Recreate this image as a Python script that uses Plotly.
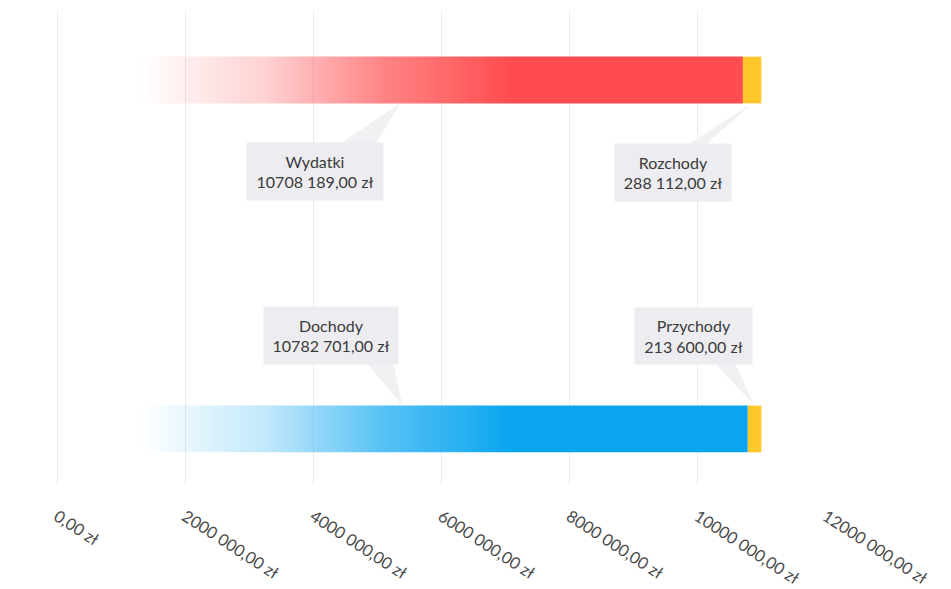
import plotly.graph_objects as go

# Budget rows (numeric y positions keep the wide gap between the two rows)
rows = ["Dochody / Przychody", "Wydatki / Rozchody"]
row_pos = [0, 1]

main_names = ["Dochody", "Wydatki"]
main_values = [10782701.00, 10708189.00]
extra_names = ["Przychody", "Rozchody"]
extra_values = [213600.00, 288112.00]

tick_values = [0, 2000000, 4000000, 6000000, 8000000, 10000000, 12000000]

RED = "255,77,79"
BLUE = "10,165,240"
YELLOW = "#ffc72c"
BOX = "#ededf1"
WEDGE = "#f1f1f4"
HALF = 0.067  # half bar thickness in y units
FONT = "Lato, Carlito, sans-serif"


def fmt(v):
    v = int(round(v))
    th, rem = divmod(v, 1000)
    if th:
        return f"{th} {rem:03d},00 zł"
    return f"{rem},00 zł"


def fade(rgb):
    return [
        [0.0, f"rgba({rgb},0)"],
        [0.12, f"rgba({rgb},0)"],
        [0.30, f"rgba({rgb},0.25)"],
        [0.48, f"rgba({rgb},0.7)"],
        [0.66, f"rgba({rgb},1)"],
        [1.0, f"rgba({rgb},1)"],
    ]


fig = go.Figure()

colors = [BLUE, RED]
for pos, name, val, rgb in zip(row_pos, main_names, main_values, colors):
    fig.add_trace(go.Scatter(
        x=[0, val, val, 0, 0],
        y=[pos - HALF, pos - HALF, pos + HALF, pos + HALF, pos - HALF],
        fill="toself",
        mode="none",
        fillgradient=dict(type="horizontal", colorscale=fade(rgb),
                          start=0, stop=val),
        name=name,
        showlegend=False,
        hoverinfo="skip",
    ))

fig.add_trace(go.Bar(
    y=row_pos,
    x=extra_values,
    base=main_values,
    orientation="h",
    width=2 * HALF,
    marker=dict(color=YELLOW, line=dict(width=0)),
    showlegend=False,
    hoverinfo="skip",
))

# Callouts: (row index, segment start, segment value, label, box offset, box size, wedge base)
callouts = [
    (1, 0, main_values[1], main_names[1], (-85, -68), (134, 55), (-67, -27, -45)),
    (1, main_values[1], extra_values[1], extra_names[1], (-79, -69), (114, 55), (-72, -52, -46)),
    (0, 0, main_values[0], main_names[0], (-71, 70), (132, 55), (-40, -10, 48)),
    (0, main_values[0], extra_values[0], extra_names[0], (-61, 70), (115, 54), (-45, -22, 48)),
]

for ri, start, val, name, (dx, dy), (w, h), (bx0, bx1, by) in callouts:
    pos = row_pos[ri]
    tip_x = start + val / 2
    tip_y = pos - HALF if ri == 1 else pos + HALF
    fig.add_shape(
        type="path",
        xref="x", yref="y",
        xsizemode="pixel", ysizemode="pixel",
        xanchor=tip_x, yanchor=tip_y,
        path=f"M 0,0 L {bx0},{by} L {bx1},{by} Z",
        fillcolor=WEDGE,
        line=dict(width=0),
        layer="above",
    )
    fig.add_annotation(
        x=tip_x, y=tip_y, xref="x", yref="y",
        xshift=dx, yshift=dy,
        text=f"{name}<br>{fmt(val)}",
        showarrow=False,
        bgcolor=BOX,
        width=w, height=h,
        align="center", valign="middle",
        xanchor="center", yanchor="middle",
        font=dict(family=FONT, size=16, color="#3a3a3a"),
    )

fig.update_layout(
    width=951, height=589,
    margin=dict(l=57, r=125, t=10, b=104, autoexpand=False),
    paper_bgcolor="white",
    plot_bgcolor="white",
    showlegend=False,
    barmode="overlay",
    xaxis=dict(
        range=[0, 12000000 * 1.0005],
        tickvals=tick_values,
        ticktext=[fmt(v) for v in tick_values],
        tickangle=33,
        automargin=False,
        showgrid=True,
        gridcolor="#ebebeb",
        gridwidth=1,
        zeroline=True,
        zerolinecolor="#ebebeb",
        zerolinewidth=1,
        showline=False,
        ticks="",
        ticklabelstandoff=18,
        tickfont=dict(family=FONT, size=16.5, color="#4a4a4a"),
        fixedrange=True,
    ),
    yaxis=dict(
        range=[-0.1605, 1.2006],
        automargin=False,
        showgrid=False,
        zeroline=False,
        showticklabels=False,
        ticks="",
        fixedrange=True,
    ),
)

fig.write_html("out.html")
